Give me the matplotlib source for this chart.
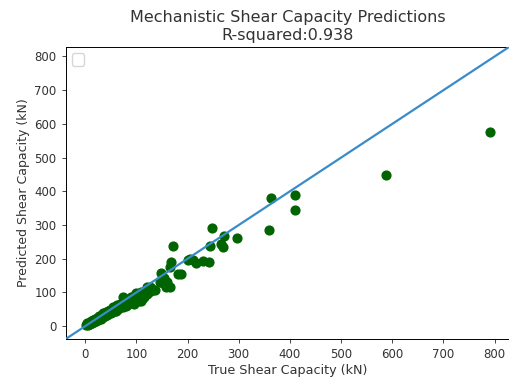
import matplotlib
matplotlib.use("Agg")
import matplotlib.pyplot as plt

true_vals = [2, 4, 6, 8, 10, 12, 14, 15, 18, 20, 22, 24, 25, 28, 30, 32, 34, 35, 38, 40,
             42, 44, 45, 48, 50, 52, 54, 55, 58, 60, 62, 63, 65, 68, 70, 72, 74, 75, 78, 80,
             82, 84, 85, 88, 90, 92, 94, 95, 98, 100, 102, 104, 105, 108, 110, 112, 115, 118, 120, 122,
             125, 128, 130,
             74, 100, 113, 120, 133, 146, 152, 158, 149, 165, 181, 188, 155, 171, 200, 204, 210, 217,
             230, 241, 243, 247, 266, 270, 271, 296, 359, 364, 409, 409, 587, 790,
             126, 136, 159, 165, 168, 60, 80, 95, 110]
pred_vals = [3, 8, 5, 10, 6, 14, 9, 18, 12, 22, 16, 25, 18, 30, 22, 34, 26, 38, 30, 42,
             33, 45, 36, 48, 40, 52, 44, 56, 46, 60, 50, 64, 52, 66, 56, 70, 58, 74, 62, 78,
             64, 82, 68, 72, 86, 70, 76, 90, 72, 92, 80, 95, 76, 85, 100, 82, 88, 105, 95, 110,
             100, 112, 108,
             87, 98, 98, 117, 107, 132, 127, 117, 159, 177, 155, 155, 142, 237, 197, 199, 197, 187,
             192, 189, 237, 290, 245, 235, 267, 262, 285, 381, 389, 345, 448, 576,
             117, 107, 132, 117, 190, 44, 60, 66, 74]

title_text = "Mechanistic Shear Capacity Predictions\nR-squared:0.938"
x_label = "True Shear Capacity (kN)"
y_label = "Predicted Shear Capacity (kN)"
lims = [-38, 828]

fig = plt.figure(figsize=(5.1, 3.85), dpi=100)
ax = fig.add_axes([65.7 / 510, (385 - 339) / 385, (509 - 65.7) / 510, (339 - 47) / 385])
ax.scatter(true_vals, pred_vals, s=40, color="darkgreen", zorder=2)
ax.plot(lims, lims, color="#3a8cc8", lw=1.6, zorder=3)
ax.set_xlim(lims)
ax.set_ylim(lims)
ax.set_xticks([0, 100, 200, 300, 400, 500, 600, 700, 800])
ax.set_yticks([0, 100, 200, 300, 400, 500, 600, 700, 800])
ax.tick_params(labelsize=8.5, length=3, width=0.7, color="#444444", labelcolor="#333333")
for sp in ax.spines.values():
    sp.set_linewidth(0.7)
ax.set_xlabel(x_label, fontsize=9.2, color="#333333", labelpad=2)
ax.set_ylabel(y_label, fontsize=9, color="#333333", labelpad=3)
ax.set_title(title_text, fontsize=11.5, color="#333333", pad=5, linespacing=1.25)
ax.legend(handles=[], loc="upper left", fontsize=9, borderpad=0.5)
fig.savefig("out.png", dpi=100)
